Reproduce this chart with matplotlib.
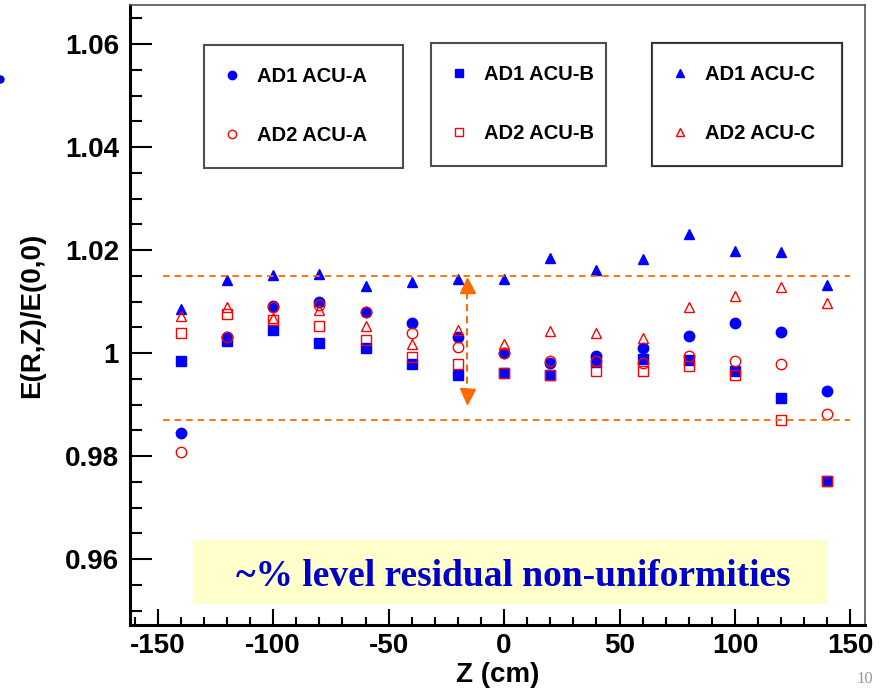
import matplotlib
matplotlib.use("Agg")
import matplotlib.pyplot as plt
from matplotlib.ticker import MultipleLocator, FuncFormatter
from matplotlib.patches import Rectangle
from matplotlib.lines import Line2D

plt.rcParams['axes.unicode_minus'] = False

# Z positions (cm)
z = [-140, -120, -100, -80, -60, -40, -20, 0, 20, 40, 60, 80, 100, 120, 140]

# E(R,Z)/E(0,0)
ad1_acu_a = [0.9844, 1.0031, 1.0091, 1.0099, 1.0080, 1.0059, 1.0031, 1.0000,
             0.9980, 0.9995, 1.0010, 1.0033, 1.0058, 1.0041, 0.9926]
ad2_acu_a = [0.9807, 1.0031, 1.0090, 1.0094, 1.0080, 1.0040, 1.0011, 1.0001,
             0.9985, 0.9985, 0.9980, 0.9995, 0.9985, 0.9978, 0.9882]
ad1_acu_b = [0.9984, 1.0024, 1.0044, 1.0020, 1.0010, 0.9979, 0.9958, 0.9962,
             0.9958, 0.9982, 0.9989, 0.9987, 0.9966, 0.9912, 0.9752]
ad2_acu_b = [1.0039, 1.0075, 1.0065, 1.0052, 1.0026, 0.9992, 0.9978, 0.9962,
             0.9958, 0.9965, 0.9966, 0.9974, 0.9958, 0.9871, 0.9752]
ad1_acu_c = [1.0085, 1.0141, 1.0151, 1.0153, 1.0131, 1.0138, 1.0144, 1.0143,
             1.0185, 1.0162, 1.0182, 1.0232, 1.0198, 1.0196, 1.0133]
ad2_acu_c = [1.0072, 1.0089, 1.0068, 1.0083, 1.0053, 1.0017, 1.0044, 1.0018,
             1.0042, 1.0039, 1.0030, 1.0089, 1.0111, 1.0128, 1.0097]

# band limits and arrow
band_lo, band_hi = 0.987, 1.015
band_z = [-147.5, 150]
arrow_z = -16

blue = '#0000ff'
red = '#ff0000'
orange = '#ff6a00'
font = 'Liberation Sans'

fig = plt.figure(figsize=(8.81, 6.88), dpi=100)
ax = fig.add_axes([130/881, 1-625/688, 735/881, 620/688])

ms = 7.5
h_a1, = ax.plot(z, ad1_acu_a, ls='none', marker='o', ms=ms, color=blue, mec=blue, label='AD1 ACU-A')
h_b1, = ax.plot(z, ad1_acu_b, ls='none', marker='s', ms=7, color=blue, mec=blue, label='AD1 ACU-B')
h_c1, = ax.plot(z, ad1_acu_c, ls='none', marker='^', ms=7.3, color=blue, mec=blue, label='AD1 ACU-C')
h_a2, = ax.plot(z, ad2_acu_a, ls='none', marker='o', ms=ms, mfc='none', mec=red, mew=1.0, label='AD2 ACU-A')
h_b2, = ax.plot(z, ad2_acu_b, ls='none', marker='s', ms=7, mfc='none', mec=red, mew=1.0, label='AD2 ACU-B')
h_c2, = ax.plot(z, ad2_acu_c, ls='none', marker='^', ms=7.3, mfc='none', mec=red, mew=1.0, label='AD2 ACU-C')

# orange band
for yv in (band_lo, band_hi):
    ax.plot(band_z, [yv, yv], color=orange, lw=1.3, dashes=(3.6, 2.8))

# double arrow
ax.plot([arrow_z, arrow_z], [1.0118, 0.9931], color=orange, lw=1.5, dashes=(3.4, 2.4))
ax.plot([arrow_z], [1.0133], marker='^', ms=10.8, color=orange, mec=orange)
ax.plot([arrow_z], [0.99165], marker='v', ms=10.8, color=orange, mec=orange)

# yellow note box
ax.add_patch(Rectangle((0.0857, 0.0339), 0.8626, 0.1032, transform=ax.transAxes,
                       facecolor='#ffffcc', edgecolor='none', zorder=1))
ax.text(0.5218, 0.0629, '~% level residual non-uniformities', transform=ax.transAxes,
        ha='center', va='baseline', fontsize=27, fontweight='bold',
        family='Liberation Serif', color='#0000cc', zorder=2)

ax.set_xlim(-162, 156.3)
ax.set_ylim(0.9472, 1.0676)

ax.xaxis.set_major_locator(MultipleLocator(50))
ax.xaxis.set_minor_locator(MultipleLocator(10))
ax.yaxis.set_major_locator(MultipleLocator(0.02))
ax.yaxis.set_minor_locator(MultipleLocator(0.005))
fmt = FuncFormatter(lambda v, _: f'{round(v, 4):g}')
ax.xaxis.set_major_formatter(fmt)
ax.yaxis.set_major_formatter(fmt)

ax.tick_params(axis='x', which='major', direction='in', length=11.5, width=1.5, pad=6)
ax.tick_params(axis='x', which='minor', direction='in', length=5.8, width=1.5)
ax.tick_params(axis='y', which='major', direction='in', length=15.8, width=1.5, pad=8)
ax.tick_params(axis='y', which='minor', direction='in', length=8.6, width=1.5)
for lab in ax.get_xticklabels() + ax.get_yticklabels():
    lab.set_fontfamily(font)
    lab.set_fontweight('bold')
    lab.set_fontsize(20)

for s in ('left', 'bottom'):
    ax.spines[s].set_linewidth(2.2)
    ax.spines[s].set_color('black')
for s in ('top', 'right'):
    ax.spines[s].set_linewidth(1.2)
    ax.spines[s].set_color('#555555')

ax.set_xlabel('Z (cm)', fontsize=20, fontweight='bold', family=font)
ax.xaxis.label.set(va='center')
ax.xaxis.set_label_coords(0.5, -0.0806)
ax.set_ylabel('E(R,Z)/E(0,0)', fontsize=20, fontweight='bold', family=font)
ax.yaxis.label.set(va='center')
ax.yaxis.set_label_coords(-0.1333, 0.5)

# three legend boxes
leg_kw = dict(loc='upper left', mode='expand', borderaxespad=0, frameon=True, fancybox=False,
              handlelength=0.6, handletextpad=0.95, borderpad=1.1, labelspacing=2.0,
              markerscale=0.8, prop={'family': font, 'weight': 'bold', 'size': 14.5})
boxes = [((h_a1, h_a2), 0.1007, 0.9355, 0.2707),
         ((h_b1, h_b2), 0.4095, 0.9387, 0.2381),
         ((h_c1, h_c2), 0.7102, 0.9387, 0.2585)]
for hs, x0, y1, w in boxes:
    leg = ax.legend(handles=list(hs), bbox_to_anchor=(x0, y1, w, 0), **leg_kw)
    leg.get_frame().set_edgecolor('#222222')
    leg.get_frame().set_linewidth(1.5)
    ax.add_artist(leg)

# slide leftovers: page number and bullet edge
fig.text(856/881, 0.002, '10', ha='left', va='bottom', fontsize=12,
         family='Liberation Serif', color='#999999')
fig.add_artist(Line2D([0.0], [1-79/688], marker='o', ms=5, color='#0000cc',
                      transform=fig.transFigure))

fig.savefig('out.png', dpi=100)
